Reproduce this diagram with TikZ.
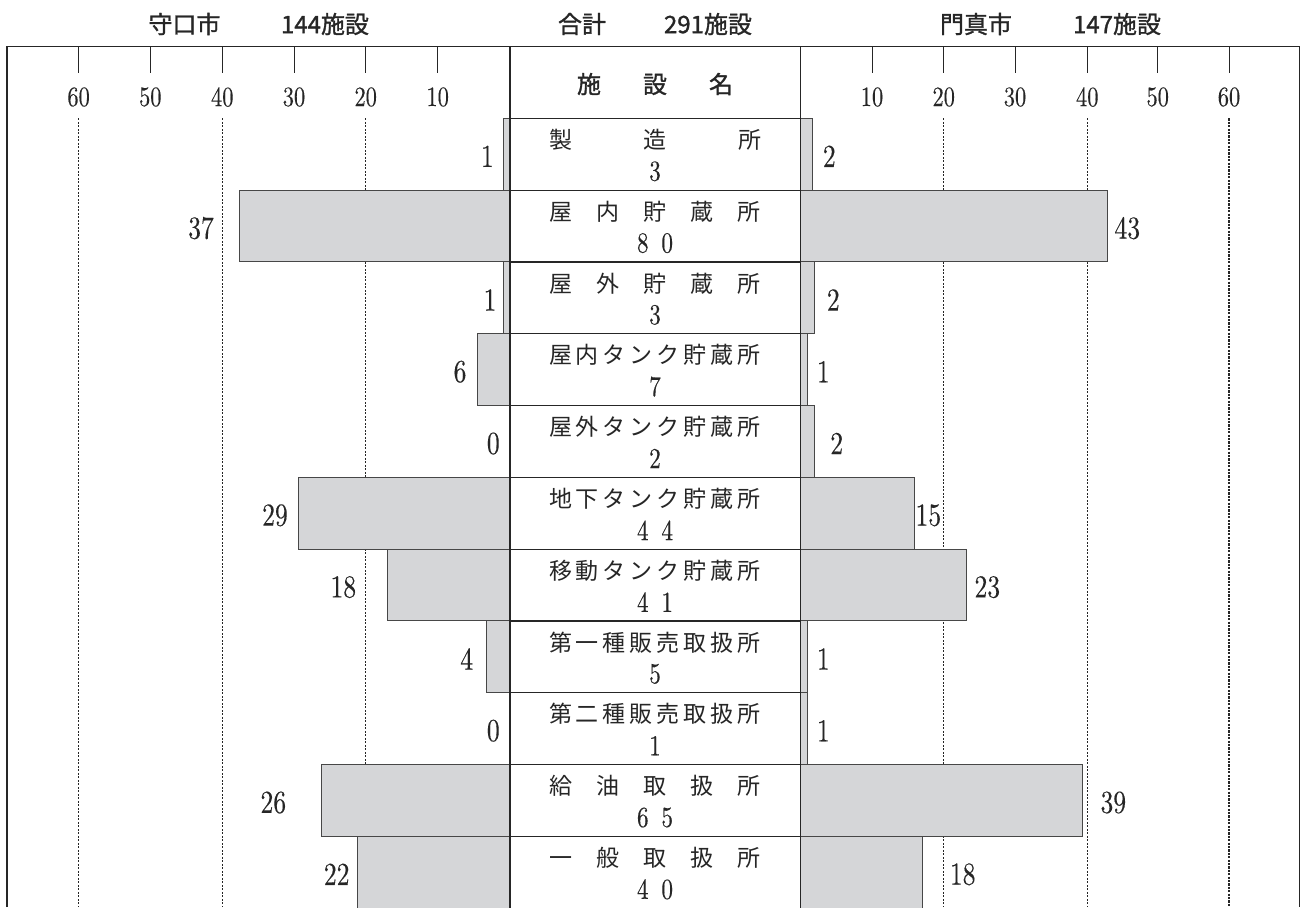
\documentclass[tikz,border=0pt]{standalone}
\usepackage{fontspec}
\usepackage{graphicx}
\newfontfamily\jp{Noto Sans CJK JP}
\newfontfamily\jpb[FakeBold=1.2]{Noto Sans CJK JP}
\newfontfamily\numf{lmroman10-regular.otf}[FakeBold=0.3]
\newcommand\tn[1]{\scalebox{0.8}[1]{#1}}
\definecolor{barfill}{HTML}{D5D6D8}
\definecolor{ink}{HTML}{262626}
\tikzset{
  frameline/.style={draw=ink, line width=0.6pt},
  tickline/.style={draw=ink, line width=0.5pt},
  barbox/.style={draw=ink!85, fill=barfill, line width=0.55pt},
  gridline/.style={draw=ink, line width=0.45pt, dash pattern=on 1pt off 0.75pt},
  gridheavy/.style={draw=ink, line width=0.9pt, dash pattern=on 1.1pt off 0.6pt},
  rowbox/.style={draw=ink, line width=0.6pt, fill=white, minimum width=145.35pt, minimum height=35.9pt, inner sep=0pt, outer sep=0pt},
  ticklbl/.style={inner sep=0pt, text=ink, font=\numf\fontsize{14}{14}\selectfont},
  vallbl/.style={inner sep=0pt, text=ink, font=\numf\fontsize{16}{16}\selectfont},
  totlbl/.style={inner sep=0pt, text=ink, font=\numf\fontsize{14.5}{14.5}\selectfont},
  namelbl/.style={inner sep=0pt, text=ink, font=\jp\fontsize{11.5}{11.5}\selectfont},
  headlbl/.style={inner sep=0pt, text=ink, font=\jpb\fontsize{12}{12}\selectfont},
}
\begin{document}
\begin{tikzpicture}[x=0.5pt, y=-0.5pt]
\useasboundingbox (0,0) rectangle (1306,907);
% header texts
\node[headlbl] (hMoriguchi) at (184.5,24) {守口市};
\node[headlbl] (hMoriN) at (325,24) {144施設};
\node[headlbl] (hSum) at (582,24) {合計};
\node[headlbl] (hSumN) at (708,24) {291施設};
\node[headlbl] (hKadoma) at (976,24) {門真市};
\node[headlbl] (hKadoN) at (1117,24) {147施設};
% dashed grid lines
\foreach \x in {78.6,222.3,365.7,943.7,1087.3}
  \draw[gridline] (\x,118.3) -- (\x,907);
\draw[gridheavy] (1229,118.3) -- (1229,907);
% bars and rows
\foreach \i/\nm/\tot/\lv/\lx/\llx/\rv/\rx/\rlx in {
 0/{製\hfill 造\hfill 所}/{3}/1/503.3/487.3/2/812.3/829.3,
 1/{屋\hfill 内\hfill 貯\hfill 蔵\hfill 所}/{8\hspace{8pt}0}/37/239.3/201/43/1107.3/1127.3,
 2/{屋\hfill 外\hfill 貯\hfill 蔵\hfill 所}/{3}/1/503.3/490/2/814.3/833.3,
 3/{屋\hfill 内\hfill タ\hfill ン\hfill ク\hfill 貯\hfill 蔵\hfill 所}/{7}/6/477.7/460/1/807.3/823.3,
 4/{屋\hfill 外\hfill タ\hfill ン\hfill ク\hfill 貯\hfill 蔵\hfill 所}/{2}/0/510/493.3/2/814.3/836.7,
 5/{地\hfill 下\hfill タ\hfill ン\hfill ク\hfill 貯\hfill 蔵\hfill 所}/{4\hspace{8pt}4}/29/298.3/275/15/914.3/928.3,
 6/{移\hfill 動\hfill タ\hfill ン\hfill ク\hfill 貯\hfill 蔵\hfill 所}/{4\hspace{8pt}1}/18/387.7/343.3/23/966.3/987.3,
 7/{第\hfill 一\hfill 種\hfill 販\hfill 売\hfill 取\hfill 扱\hfill 所}/{5}/4/486.7/466.7/1/807.3/823.3,
 8/{第\hfill 二\hfill 種\hfill 販\hfill 売\hfill 取\hfill 扱\hfill 所}/{1}/0/510/493.3/1/807.3/823.3,
 9/{給\hfill 油\hfill 取\hfill 扱\hfill 所}/{6\hspace{8pt}5}/26/321.7/273.3/39/1082.3/1113.3,
 10/{一\hfill 般\hfill 取\hfill 扱\hfill 所}/{4\hspace{8pt}0}/22/357.3/336.7/18/922.7/962.7}
{
  \pgfmathsetmacro\t{118.3+71.8*\i}
  \draw[barbox] (\lx,\t) rectangle (510,\t+71.8);
  \draw[barbox] (800.7,\t) rectangle (\rx,\t+71.8);
  \node[rowbox] (row\i) at (655.35,\t+35.9) {};
  \node[namelbl] (name\i) at (655,\t+21.5) {\hbox to 106pt{\nm}};
  \node[totlbl] (tot\i) at (655,\t+53) {\tn{\tot}};
  \node[vallbl] (lv\i) at (\llx,\t+38) {\tn{\lv}};
  \node[vallbl] (rv\i) at (\rlx,\t+38) {\tn{\rv}};
}
% center column
\draw[frameline] (510,46.5) -- (510,907);
\draw[frameline] (800.7,46.5) -- (800.7,907);
\node[headlbl] (hName) at (655,84) {\hbox to 78pt{施\hfill 設\hfill 名}};
% ticks
\foreach \v/\x in {60/78.6,50/150.3,40/222.3,30/294,20/365.7,10/437.7}{
  \draw[tickline] (\x,46.5) -- (\x,72.7);
  \node[ticklbl] (tL\v) at (\x,97) {\tn{\v}};
}
\foreach \v/\x in {10/872,20/943.7,30/1015,40/1087.3,50/1157.7,60/1229}{
  \draw[tickline] (\x,46.5) -- (\x,72.7);
  \node[ticklbl] (tR\v) at (\x,97) {\tn{\v}};
}
% frame
\draw[frameline] (7,907) -- (7,46.5) -- (1299.5,46.5) -- (1299.5,907);
\end{tikzpicture}
\end{document}
